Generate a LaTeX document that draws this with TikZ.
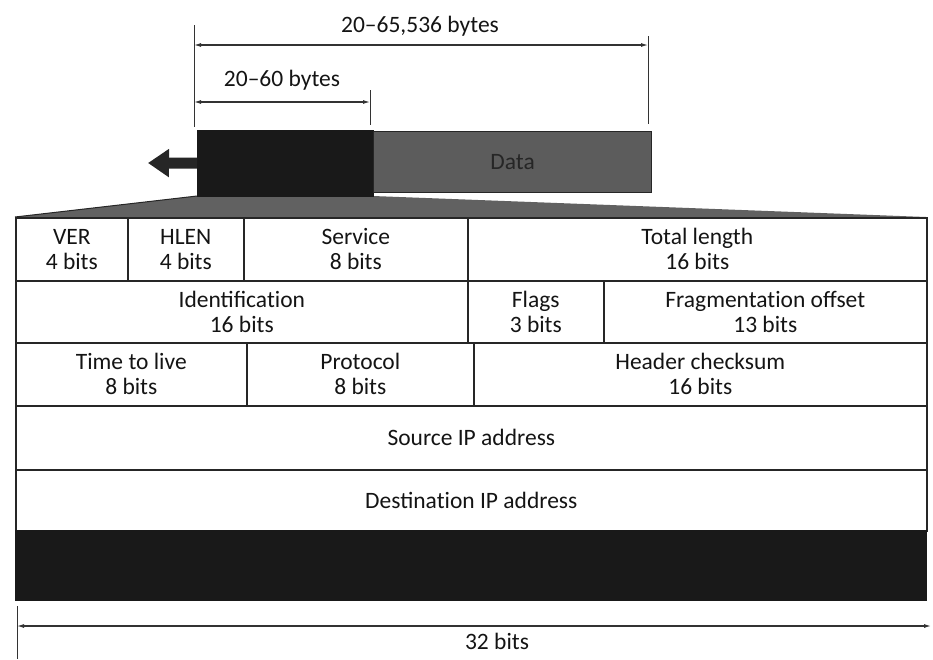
\documentclass[tikz,border=0pt]{standalone}
\usepackage{fontspec}
\setmainfont{Carlito}
\usetikzlibrary{arrows.meta}
\begin{document}
\begin{tikzpicture}[x=1pt,y=-1pt,
  lbl/.style={font=\fontsize{23.5}{25}\selectfont, text=black!92, align=center, inner sep=0pt},
  cell/.style={lbl, draw=black!85, line width=1.6pt, anchor=north west, minimum height=#1},
  cell/.default=63pt,
  dim/.style={line width=1.1pt, draw=black!80, {Latex[length=7pt,width=4pt]}-{Latex[length=7pt,width=4pt]}},
  tickline/.style={line width=1pt, draw=black!80}]
\useasboundingbox (0,0) rectangle (933,659);

% dimension lines on top
\coordinate (lt1) at (194,25);
\coordinate (lt2) at (194,127);
\coordinate (rt1) at (648,36);
\coordinate (rt2) at (648,124);
\coordinate (mt1) at (370,90);
\coordinate (mt2) at (370,125);
\draw[tickline] (lt1) -- (lt2);
\draw[tickline] (rt1) -- (rt2);
\draw[tickline] (mt1) -- (mt2);
\coordinate (d1l) at (194,45);
\coordinate (d1r) at (648,45);
\coordinate (d2l) at (194,102);
\coordinate (d2r) at (370,102);
\draw[dim] (d1l) -- (d1r);
\draw[dim] (d2l) -- (d2r);
\node[lbl] (totlbl) at (420,26) {20–65,536 bytes};
\node[lbl] (hdrlbl) at (282,80) {20–60 bytes};

% funnel from header to table
\fill[black!62] (197,196) -- (373,196) -- (926,217) -- (15,217) -- cycle;
\draw[black!85, line width=1pt] (197,196) -- (15,217);

% header and data
\node[fill=black!90, draw=black!90, minimum width=176pt, minimum height=66pt, anchor=north west, inner sep=0pt] (hdr) at (197,130) {};
\node[fill=black!64, draw=black!85, line width=1.2pt, minimum width=278pt, minimum height=61pt, anchor=north west, inner sep=0pt, font=\fontsize{23.5}{25}\selectfont, text=black!85] (data) at (373,131) {Data};
\coordinate (tip) at (148,163);
\draw[line width=11pt, black!85, -{Triangle[length=21pt,width=27pt]}] (hdr.west) -- (tip);

% table
\node[cell, minimum width=112pt] (ver) at (15,217) {VER\\4 bits};
\node[cell, minimum width=116pt] (hlen) at (127,217) {HLEN\\4 bits};
\node[cell, minimum width=224pt] (serv) at (243,217) {Service\\8 bits};
\node[cell, minimum width=459pt] (totl) at (467,217) {Total length\\16 bits};

\node[cell=62pt, minimum width=452pt] (ident) at (15,280) {Identificat\kern0pt ion\\16 bits};
\node[cell=62pt, minimum width=136pt] (flags) at (467,280) {Flags\\3 bits};
\node[cell=62pt, minimum width=323pt] (frag) at (603,280) {Fragmentat\kern0pt ion offset\\13 bits};

\node[cell, minimum width=231pt] (ttl) at (15,342) {Time to live\\8 bits};
\node[cell, minimum width=227pt] (proto) at (246,342) {Protocol\\8 bits};
\node[cell, minimum width=453pt] (csum) at (473,342) {Header checksum\\16 bits};

\node[cell=64pt, minimum width=911pt] (src) at (15,405) {Source IP address};
\node[cell=61pt, minimum width=911pt] (dst) at (15,469) {Destinat\kern0pt ion IP address};
\node[fill=black!90, draw=black!90, minimum width=911pt, minimum height=70pt, anchor=north west, inner sep=0pt] (opt) at (15,530) {};

% 32 bits
\coordinate (bt1) at (17,606);
\coordinate (bt2) at (17,659);
\draw[tickline] (bt1) -- (bt2);
\coordinate (b32l) at (17,626);
\coordinate (b32r) at (931,626);
\draw[dim] (b32l) -- (b32r);
\node[lbl] (bitslbl) at (497,641) {32 bits};
\end{tikzpicture}
\end{document}
